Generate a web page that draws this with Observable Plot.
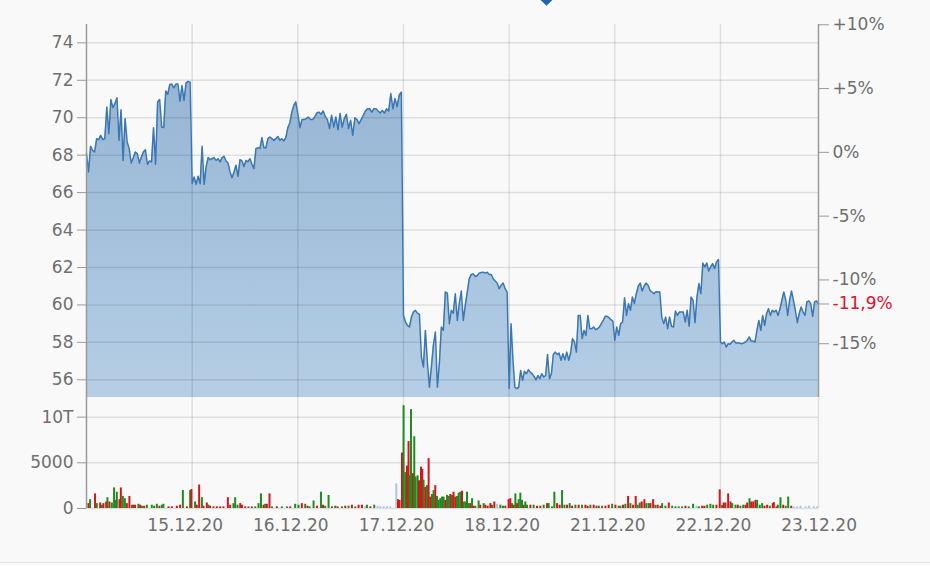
<!DOCTYPE html>
<html><head><meta charset="utf-8">
<script src="https://cdn.jsdelivr.net/npm/d3@7"></script>
<script src="https://cdn.jsdelivr.net/npm/@observablehq/plot@0.6"></script>
<style>
html,body{margin:0;padding:0;background:#f9f9f9;}
#wrap{position:relative;width:930px;height:566px;overflow:hidden;font-family:"DejaVu Sans",Verdana,sans-serif;}
#price{position:absolute;left:0;top:0;}
#vol{position:absolute;left:0;top:397px;}
#marker{position:absolute;left:542px;top:-5px;width:9px;height:9px;background:#2264ad;transform:rotate(45deg);}
#bottomline{position:absolute;left:0;top:562px;width:930px;height:1px;background:#e2e2e2;}
</style></head><body>
<div id="wrap"><div id="price"></div><div id="vol"></div><div id="marker"></div><div id="bottomline"></div></div>
<script>
// ---- data ----
const dayLabels = ["14.12.20","15.12.20","16.12.20","17.12.20","18.12.20","21.12.20","22.12.20","23.12.20"];
const tickDays = [1,2,3,4,5,6,7];
const windowEnd = 6.928;          // visible time window end (trading-day units)
const lastSessionBars = 55;       // intervals in the (incomplete) last session
const basePrice = 68.15;          // reference price for the % axis
const priceTicks = [56,58,60,62,64,66,68,70,72,74];
const pctTicks = [10,5,0,-5,-10,-15];
const volTicks = [0,5000,10000];
const volTickLabels = ["0","5000","10T"];
const priceDomain = [55.055, 74.98];
const volDomain = [0, 12150];

const day0 = [68.08,67.1,68.47,68.26,68.17,68.88,68.83,69.06,68.83,68.88,70.57,69.15,70.97,70.54,70.75,71.07,68.79,70.43,67.72,69.95,68.70,68.35,67.58,67.85,68.17,68.08,67.58,67.9,68.17,68.29,67.51,67.69,67.64,69.47,67.51,70.84,70.97,69.5,69.47,71.43,71.25,71.78,71.8,71.6,71.8,71.8,70.89,71.72,70.93,71.85,71.94,71.9];
const day1 = [66.48,66.83,66.44,66.87,66.48,68.47,66.44,67.37,67.87,67.76,67.81,67.87,67.72,67.81,67.64,67.87,67.94,67.69,67.58,67.1,66.8,67.1,67.46,66.87,67.76,67.69,67.4,67.72,67.64,67.81,67.51,67.28,68.35,68.4,68.35,68.94,68.4,68.4,68.88,68.97,68.88,68.79,68.88,69.0,68.79,68.88,68.76,68.94,69.47,69.72,70.3,70.66,70.84];
const day2 = [70.22,69.47,69.9,69.9,69.95,70.04,69.9,69.9,70.04,70.25,70.3,70.18,70.36,70.07,69.9,69.42,70.13,69.5,70.04,69.36,70.22,69.5,69.95,70.18,69.42,69.86,69.06,70.0,69.9,69.68,69.9,70.13,70.36,70.48,70.48,70.3,70.48,70.48,70.36,70.25,70.39,70.25,70.48,70.36,71.29,70.48,71.02,70.6,71.2,71.37];
const day3 = [59.44,59.09,58.91,58.82,59.35,59.62,59.71,59.56,59.5,57.22,56.68,58.64,56.95,55.61,56.68,57.84,58.55,55.61,56.86,58.82,58.64,60.69,60.63,59.0,59.71,59.56,60.6,59.17,60.07,60.74,59.17,59.98,60.69,61.4,61.63,61.66,61.52,61.57,61.7,61.73,61.75,61.7,61.75,61.63,61.63,61.4,61.28,61.17,60.87,61.05,61.17,60.87,60.69];
const day4 = [55.53,59.0,57.04,55.61,55.53,55.61,56.5,55.97,56.46,56.32,56.54,56.41,56.32,56.18,56.0,56.23,56.06,56.32,56.15,56.23,57.35,56.06,56.32,57.35,57.48,57.35,57.43,57.04,57.39,57.07,57.48,57.04,57.43,58.2,58.02,57.48,59.44,59.44,58.2,58.64,58.37,59.44,58.73,58.73,58.82,58.68,58.73,58.82,59.0,59.17,59.39,59.39,59.32,59.21,59.14];
const day5 = [58.11,58.82,58.37,59.0,59.09,60.38,59.44,60.07,59.71,60.42,60.07,60.6,61.0,61.17,60.74,61.0,61.17,61.05,60.78,60.69,60.6,60.7,60.69,60.69,59.35,59.0,59.35,58.73,59.35,58.86,58.82,59.67,59.44,59.62,59.62,59.62,59.09,59.71,58.86,60.42,60.25,59.05,60.42,61.14,60.6,62.24,62.03,62.24,61.81,62.03,62.21,61.94,62.3,62.42];
const day6 = [58.02,57.93,58.02,57.75,57.93,57.9,58.02,58.11,57.96,57.96,57.96,57.93,57.96,58.02,58.11,58.29,58.07,58.07,58.02,58.64,59.17,58.64,59.44,58.91,59.53,59.8,59.44,59.71,59.62,59.71,59.44,59.8,60.25,60.69,60.25,59.44,60.25,60.74,60.25,59.71,59.05,59.53,59.89,59.62,59.44,60.16,60.21,60.07,59.39,60.16,60.21,60.05];
const priceByDay = [day0, day1, day2, day3, day4, day5, day6];

const volT = [0.018,0.034,0.081,0.097,0.129,0.145,0.160,0.186,0.198,0.217,0.240,0.261,0.274,0.287,0.312,0.325,0.344,0.363,0.382,0.406,0.429,0.444,0.460,0.491,0.508,0.524,0.545,0.571,0.618,0.640,0.666,0.690,0.713,0.728,0.776,0.808,0.855,0.886,0.912,0.950,0.981,0.993,
1.028,1.044,1.066,1.092,1.107,1.139,1.154,1.170,1.202,1.234,1.265,1.296,1.338,1.360,1.391,1.407,1.429,1.455,1.471,1.502,1.533,1.565,1.597,1.628,1.651,1.675,1.691,1.707,1.732,1.755,1.802,1.849,1.897,1.928,1.975,
2.006,2.038,2.070,2.092,2.111,2.149,2.181,2.219,2.238,2.259,2.291,2.323,2.354,2.376,2.418,2.449,2.480,2.512,2.544,2.575,2.607,2.638,2.654,2.686,2.723,2.755,2.780,2.812,2.844,2.875,2.932,2.948,2.963,2.986,
3.001,3.017,3.033,3.048,3.058,3.071,3.090,3.102,3.115,3.134,3.147,3.166,3.178,3.190,3.206,3.223,3.238,3.254,3.270,3.285,3.301,3.317,3.332,3.348,3.365,3.380,3.396,3.412,3.427,3.443,3.459,3.474,3.491,3.507,3.522,3.538,3.554,3.569,3.585,3.601,3.617,3.633,3.649,3.664,3.680,3.711,3.727,3.759,3.775,3.796,3.822,3.838,3.860,3.885,3.917,3.942,3.964,3.995,
4.011,4.027,4.043,4.059,4.075,4.090,4.106,4.122,4.138,4.153,4.169,4.201,4.232,4.264,4.295,4.327,4.359,4.374,4.406,4.428,4.454,4.478,4.501,4.523,4.548,4.573,4.596,4.627,4.658,4.690,4.722,4.743,4.769,4.800,4.826,4.848,4.880,4.911,4.942,4.975,
5.006,5.037,5.053,5.078,5.100,5.126,5.148,5.173,5.198,5.217,5.236,5.255,5.280,5.299,5.321,5.337,5.363,5.384,5.406,5.432,5.448,5.479,5.511,5.543,5.574,5.605,5.637,5.669,5.700,5.741,5.773,5.795,5.827,5.848,5.874,5.905,5.931,5.962,5.993,
6.016,6.031,6.047,6.073,6.095,6.111,6.142,6.164,6.189,6.215,6.237,6.253,6.275,6.291,6.310,6.331,6.347,6.372,6.395,6.417,6.442,6.467,6.495,6.505,6.530,6.543,6.568,6.594,6.618,6.641,6.670,6.694,6.726,6.758,6.805,6.836,6.884,6.916];
const volV = [535,964,1600,535,600,360,535,714,1180,714,600,2250,890,1785,964,2250,1320,1070,535,1320,360,360,360,460,360,250,250,360,360,250,460,250,360,460,180,180,250,360,1964,180,1964,2070,
714,360,2570,1180,250,600,360,250,180,180,180,180,1180,360,535,1180,360,535,360,180,180,180,180,535,1600,360,460,460,1600,180,180,180,180,180,460,
360,535,460,250,180,820,250,1785,360,250,1430,180,250,180,180,250,250,360,180,360,360,180,360,180,360,250,180,180,180,180,2680,964,890,6070,
11250,3930,4640,7320,3570,10820,3820,7850,3460,3570,3030,4530,4280,3100,2320,2500,5460,1250,1530,1960,2500,1320,890,1070,1250,1250,890,1430,1320,1535,1430,1785,1250,1320,1680,1785,1890,714,714,1785,535,535,1070,250,250,820,360,535,360,250,535,360,714,460,360,250,250,964,
1070,535,360,1600,535,964,1680,890,360,714,360,360,360,250,250,360,535,535,180,1785,535,360,1960,360,360,535,250,360,360,360,360,250,360,360,250,250,250,250,360,460,
360,250,250,360,460,1320,535,360,1320,360,600,714,964,535,535,535,964,360,360,250,535,250,600,250,180,180,180,250,180,460,250,180,250,250,360,460,360,360,2035,
360,600,600,1600,714,535,360,360,250,360,360,600,1070,714,714,890,890,360,535,250,360,250,535,640,180,360,1180,360,250,1250,250,180,180,250,180,250,180,180];
// colour code per volume bar: u = up (green), d = down (red), n = unchanged (light blue)
const volDir = [
 "d","u","d","u","d","u","d","d","u","d","u","u","u","u","d","d","u","u","d","d","u","d","d","u","d","u","d","u","u","u","u","d","u","u","d","d","d","d","u","d","u","d",
 "u","d","d","u","d","d","u","d","d","d","d","d","d","d","u","u","u","d","d","d","u","d","u","u","u","d","u","d","d","u","d","u","u","d","u",
 "u","d","u","d","u","u","d","u","d","u","u","d","u","d","u","d","u","d","u","d","d","n","u","d","u","n","n","n","n","n","n","d","d","d",
 "u","u","d","d","u","u","d","u","u","u","d","d","d","u","d","u","d","d","u","u","d","u","u","u","u","u","d","u","u","d","u","d","d","u","u","u","d","u","u","u","u","d","u","d","u","u","d","u","d","d","d","u","d","n","u","u","d","d",
 "d","u","d","u","d","u","u","u","d","u","u","d","u","d","d","u","d","u","u","u","d","d","u","u","d","u","d","u","d","u","d","d","u","d","u","d","u","d","d","u",
 "d","u","u","d","u","d","u","d","d","u","u","d","d","u","u","d","d","u","d","d","u","u","d","u","u","u","u","d","u","u","n","u","d","d","u","u","u","d","d",
 "u","d","d","d","d","u","u","d","u","u","d","d","u","d","d","d","u","u","u","d","d","u","d","d","d","u","u","d","u","u","d","n","n","n","n","n","n","n"];

// ---- build series ----
const series = [];
priceByDay.forEach((arr, d) => {
  const n = d === priceByDay.length - 1 ? lastSessionBars : arr.length;
  arr.forEach((p, i) => series.push({t: d + i / n, p}));
});
const lastPrice = day6[day6.length - 1];
const volData = volT.map((t, i) => ({t, v: volV[i], c: volDir[i]}));
const dirColor = {u: "#1e8c1e", d: "#d4161c", n: "#a9c6e2"};

const pctLabel = v => {
  const p = Math.round((v / basePrice - 1) * 100);
  return p > 0 ? "+" + p + "%" : p < 0 ? "-" + Math.abs(p) + "%" : "0%";
};
const lastLabel = v => {
  const p = (v / basePrice - 1) * 100;
  return (p < 0 ? "-" : "+") + Math.abs(p).toFixed(1).replace(".", ",") + "%";
};

const FONT = '"DejaVu Sans", Verdana, sans-serif';
const style = {background: "transparent", fontFamily: FONT, fontSize: "17px", color: "#6f6f6f", overflow: "visible"};
const grid = {stroke: "#000", strokeOpacity: 0.1, strokeWidth: 1.5};
const axisCol = "#9a9a9a";
const textCol = "#6f6f6f";

const priceChart = Plot.plot({
  width: 930, height: 400, marginTop: 24, marginBottom: 3, marginLeft: 86, marginRight: 112,
  style,
  x: {domain: [0, windowEnd], axis: null},
  y: {domain: priceDomain, axis: null},
  marks: [
    Plot.areaY(series, {x: "t", y1: priceDomain[0], y2: "p", fill: "url(#areaGrad)"}),
    Plot.ruleY(priceTicks, grid),
    Plot.ruleX(tickDays.filter(d => d < windowEnd), grid),
    Plot.line(series, {x: "t", y: "p", stroke: "#3b77b3", strokeWidth: 1.5}),
    Plot.ruleX([0], {stroke: axisCol, strokeWidth: 1.5}),
    Plot.ruleX([windowEnd], {stroke: axisCol, strokeWidth: 1.5}),
    Plot.axisY(priceTicks, {anchor: "left", label: null, tickSize: 9, tickPadding: 4, stroke: axisCol, fill: textCol, tickFormat: d => String(d)}),
    Plot.axisY(pctTicks.map(p => basePrice * (1 + p / 100)), {anchor: "right", label: null, tickSize: 10, tickPadding: 4, stroke: axisCol, fill: textCol, tickFormat: pctLabel}),
    Plot.axisY([lastPrice], {anchor: "right", label: null, tickSize: 10, tickPadding: 4, stroke: axisCol, fill: "#e3112b", tickFormat: lastLabel})
  ]
});
const defs = d3.select(priceChart).insert("defs", ":first-child");
const lg = defs.append("linearGradient").attr("id", "areaGrad").attr("x1", 0).attr("x2", 0).attr("y1", 0).attr("y2", 1);
lg.append("stop").attr("offset", "0%").attr("stop-color", "#97b6d5");
lg.append("stop").attr("offset", "100%").attr("stop-color", "#b5cee5");
document.getElementById("price").appendChild(priceChart);

const volChart = Plot.plot({
  width: 930, height: 146, marginTop: 0, marginBottom: 35, marginLeft: 86, marginRight: 112,
  style,
  color: {type: "identity"},
  x: {domain: [0, windowEnd], axis: null},
  y: {domain: volDomain, axis: null},
  marks: [
    Plot.ruleY(volTicks, grid),
    Plot.ruleX(tickDays.filter(d => d < windowEnd), grid),
    Plot.ruleX([windowEnd], grid),
    Plot.ruleX(volData, {x: "t", y1: 0, y2: "v", stroke: d => dirColor[d.c], strokeWidth: 2}),
    Plot.ruleX([0], {stroke: axisCol, strokeWidth: 1.5}),
    Plot.axisY(volTicks, {anchor: "left", label: null, tickSize: 9, tickPadding: 4, stroke: axisCol, fill: textCol, tickFormat: d => volTickLabels[volTicks.indexOf(d)]}),
    Plot.text(tickDays, {x: d => d, text: d => dayLabels[d], frameAnchor: "bottom", lineAnchor: "top", dy: 10, dx: -7, fill: textCol})
  ]
});
document.getElementById("vol").appendChild(volChart);
</script>
</body></html>
